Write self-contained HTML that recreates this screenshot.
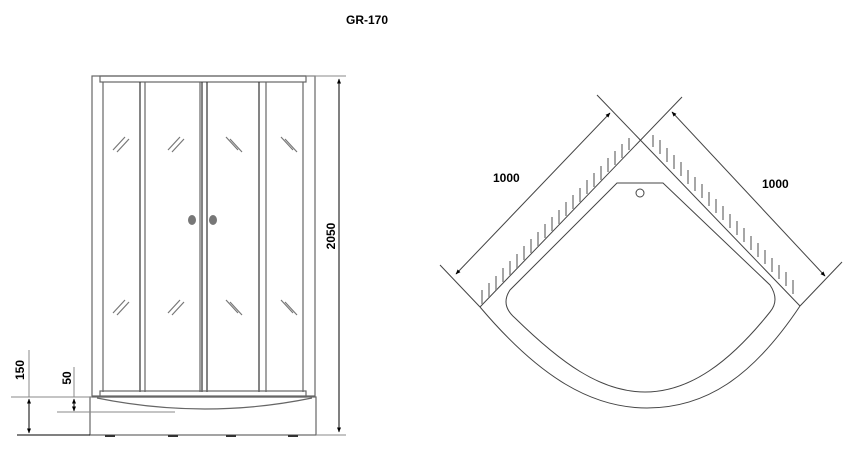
<!DOCTYPE html>
<html><head><style>
html,body{margin:0;padding:0;background:#fff;}
svg{display:block;}
text{font-family:"Liberation Sans",sans-serif;font-weight:bold;fill:#000;}
</style></head><body>
<svg width="865" height="468" viewBox="0 0 865 468" xmlns="http://www.w3.org/2000/svg">
<defs>
<marker id="a" viewBox="0 0 10 10" refX="9" refY="5" markerWidth="5" markerHeight="5" orient="auto-start-reverse"><path d="M0,1 L10,5 L0,9 z" fill="#000"/></marker>
</defs>
<text x="346" y="24" font-size="12">GR-170</text>

<!-- left elevation -->
<g fill="none" stroke="#666" stroke-width="1.2">
<rect x="92" y="76" width="223" height="320"/>
<rect x="100" y="76" width="206" height="6" />
<line x1="103" y1="82" x2="103" y2="392"/>
<line x1="303" y1="82" x2="303" y2="392"/>
<line x1="140" y1="82" x2="140" y2="392" stroke="#333"/>
<line x1="145" y1="82" x2="145" y2="392"/>
<line x1="200" y1="82" x2="200" y2="392"/>
<line x1="202" y1="82" x2="202" y2="392" stroke="#333"/>
<line x1="207" y1="82" x2="207" y2="392" stroke="#333"/>
<line x1="259" y1="82" x2="259" y2="392" stroke="#333"/>
<line x1="266" y1="82" x2="266" y2="392"/>
<rect x="100" y="391" width="206" height="6"/>
<rect x="90" y="397" width="226" height="38"/>
<path d="M97,398 Q205,420 312,398"/>
</g>
<g stroke="#777" stroke-width="1.2">
<path d="M113,150 L125,137 M117,152 L129,139 M168,150 L180,137 M172,152 L184,139 M226,137 L238,150 M230,139 L242,152 M281,137 L293,150 M285,139 L297,152"/>
<path d="M113,313 L125,300 M117,315 L129,302 M168,313 L180,300 M172,315 L184,302 M226,300 L238,313 M230,302 L242,315 M281,300 L293,313 M285,302 L297,315"/>
</g>
<ellipse cx="192" cy="220" rx="4" ry="5" fill="#777"/>
<ellipse cx="213" cy="220" rx="4" ry="5" fill="#777"/>
<g fill="#333"><rect x="105" y="435" width="10" height="2"/><rect x="168" y="435" width="10" height="2"/><rect x="226" y="435" width="10" height="2"/><rect x="288" y="435" width="10" height="2"/></g>

<!-- dims left -->
<g stroke="#000" stroke-width="1" fill="none">
<line x1="306" y1="76" x2="346" y2="76" stroke="#888"/>
<line x1="17" y1="435" x2="90" y2="435"/>
<line x1="316" y1="435" x2="346" y2="435" stroke="#888"/>
<line x1="339" y1="79" x2="339" y2="432" marker-start="url(#a)" marker-end="url(#a)"/>
<line x1="11" y1="397" x2="92" y2="397" stroke="#888"/>
<line x1="29" y1="350" x2="29" y2="397" stroke="#888"/>
<line x1="29" y1="399" x2="29" y2="433" marker-start="url(#a)" marker-end="url(#a)"/>
<line x1="57" y1="412" x2="175" y2="412" stroke="#888"/>
<line x1="74" y1="367" x2="74" y2="397" stroke="#888"/>
<line x1="74" y1="399" x2="74" y2="411" marker-start="url(#a)" marker-end="url(#a)"/>
</g>
<text transform="translate(335,236) rotate(-90)" font-size="12" text-anchor="middle">2050</text>
<text transform="translate(24,370) rotate(-90)" font-size="12" text-anchor="middle">150</text>
<text transform="translate(71,378) rotate(-90)" font-size="12" text-anchor="middle">50</text>

<!-- right plan -->
<g stroke="#444" stroke-width="1" fill="none">
<line x1="440" y1="265" x2="480" y2="307"/>
<line x1="597" y1="95" x2="800" y2="306"/>
<line x1="682" y1="97" x2="480" y2="307"/>
<line x1="842" y1="262" x2="800" y2="306"/>
<line x1="456" y1="274" x2="610" y2="113" marker-start="url(#a)" marker-end="url(#a)"/>
<line x1="672" y1="112" x2="825" y2="276" marker-start="url(#a)" marker-end="url(#a)"/>
<path d="M480,307 C540,378 592,408 647,408 C705,408 752,378 800,306"/>
<path d="M617,183 L663,183 L770,285 Q780,300 770,312 C730,362 690,392 645,392 C600,392 560,362 515,318 Q500,305 510,290 Z"/>
<circle cx="640" cy="193" r="4"/>
</g>
<g stroke="#888" stroke-width="1.5">
<path d="M482,290v14 M489,283v14 M496,276v14 M503,268v14 M510,261v14 M517,254v14 M524,246v14 M531,239v14 M538,232v14 M545,224v14 M552,217v14 M559,210v14 M566,202v14 M573,195v14 M580,188v14 M587,180v14 M594,173v14 M601,166v14 M608,158v14 M615,151v14 M622,144v14 M629,138v12"/>
<path d="M653,135v12 M660,140v14 M667,148v14 M674,155v14 M681,162v14 M688,170v14 M695,177v14 M702,184v14 M709,192v14 M716,199v14 M723,206v14 M730,214v14 M737,221v14 M744,228v14 M751,236v14 M758,243v14 M765,250v14 M772,258v14 M779,265v14 M786,272v14 M793,280v14"/>
</g>
<text x="493" y="182" font-size="12">1000</text>
<text x="762" y="188" font-size="12">1000</text>
</svg>
</body></html>
